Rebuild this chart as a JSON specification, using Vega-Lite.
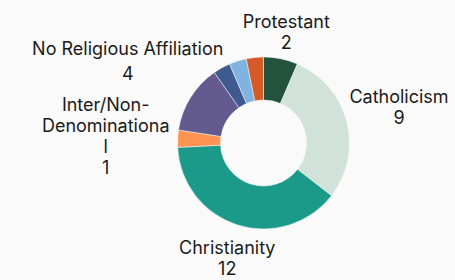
{
  "$schema": "https://vega.github.io/schema/vega-lite/v6.json",
  "autosize": "none",
  "width": 383,
  "height": 274,
  "padding": {"left": 72, "top": 6, "right": 0, "bottom": 0},
  "background": "#fafafa",
  "config": {"view": {"stroke": null}, "font": "Inter"},
  "data": {
    "values": [
      {"category": "Protestant", "count": 2, "label": "Protestant\n2"},
      {"category": "Catholicism", "count": 9, "label": "Catholicism\n9"},
      {"category": "Christianity", "count": 12, "label": "Christianity\n12"},
      {"category": "Inter/Non-Denominational", "count": 1, "label": "Inter/Non-\nDenominationa\nl\n1"},
      {"category": "No Religious Affiliation", "count": 4, "label": "No Religious Affiliation\n4"},
      {"category": "Other A", "count": 1, "label": ""},
      {"category": "Other B", "count": 1, "label": ""},
      {"category": "Other C", "count": 1, "label": ""}
    ]
  },
  "transform": [
    {"window": [{"op": "row_number", "as": "rank"}]}
  ],
  "layer": [
    {
      "mark": {"type": "arc", "outerRadius": 86, "innerRadius": 43, "stroke": "#fafafa", "strokeWidth": 0.5},
      "encoding": {
        "theta": {"field": "count", "type": "quantitative", "stack": true},
        "order": {"field": "rank", "type": "quantitative", "sort": "ascending"},
        "color": {
          "field": "category",
          "type": "nominal",
          "legend": null,
          "scale": {
            "domain": ["Protestant", "Catholicism", "Christianity", "Inter/Non-Denominational", "No Religious Affiliation", "Other A", "Other B", "Other C"],
            "range": ["#23533d", "#d1e2da", "#1c9a89", "#ff9452", "#635a8f", "#3e5a8e", "#80b3df", "#d45b27"]
          }
        }
      }
    },
    {
      "mark": {
        "type": "text",
        "fontSize": 18,
        "lineBreak": "\n",
        "lineHeight": {"expr": "datum.category === 'No Religious Affiliation' ? 25 : 21"},
        "align": "center",
        "baseline": "middle",
        "color": "#1a1a1a",
        "radius": {"expr": "datum.category === 'Protestant' ? 113 : datum.category === 'Catholicism' ? 140 : datum.category === 'Christianity' ? 121 : datum.category === 'Inter/Non-Denominational' ? 158 : datum.category === 'No Religious Affiliation' ? 160 : 120"},
        "dy": {"expr": "datum.category === 'No Religious Affiliation' ? -8.5 : -(length(split(datum.label, '\\n')) - 1) * 9.5"}
      },
      "encoding": {
        "theta": {"field": "count", "type": "quantitative", "stack": true},
        "order": {"field": "rank", "type": "quantitative", "sort": "ascending"},
        "detail": {"field": "category", "type": "nominal"},
        "text": {"field": "label", "type": "nominal"}
      }
    }
  ]
}
